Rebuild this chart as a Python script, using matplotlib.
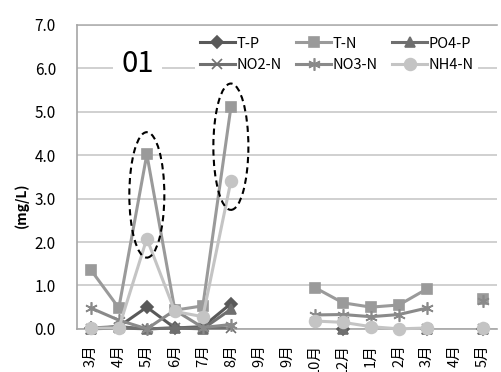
import matplotlib
matplotlib.use('Agg')
import matplotlib.pyplot as plt
from matplotlib.patches import Ellipse
import numpy as np

plt.rcParams['font.family'] = ['Noto Sans CJK JP', 'DejaVu Sans']

nan = np.nan
months = ['3月', '4月', '5月', '6月', '7月', '8月', '9月', '9月', '10月', '12月',
          '1月', '2月', '3月', '4月', '5月']

tp = [0.02, 0.05, 0.50, 0.02, 0.05, 0.58, nan, nan, nan, 0.0, nan, nan, 0.0, nan, 0.0]
tn = [1.36, 0.48, 4.02, 0.43, 0.53, 5.10, nan, nan, 0.95, 0.60, 0.50, 0.55, 0.92, nan, 0.68]
po4p = [0.0, 0.05, 0.0, 0.02, 0.0, 0.45, nan, nan, nan, 0.0, nan, nan, 0.0, nan, 0.0]
no2n = [0.0, 0.02, 0.0, 0.02, 0.02, 0.02, nan, nan, nan, 0.0, nan, nan, 0.0, nan, 0.0]
no3n = [0.48, 0.20, 0.0, 0.43, 0.03, 0.10, nan, nan, 0.32, 0.33, 0.28, 0.33, 0.48, nan, 0.65]
nh4n = [0.02, 0.02, 2.08, 0.40, 0.28, 3.40, nan, nan, 0.18, 0.15, 0.05, 0.0, 0.02, nan, 0.02]

# peaks circled with dashed ellipses: (category index, low, high)
circled = [(2, 1.64, 4.53), (5, 2.74, 5.65)]

fig = plt.figure(figsize=(5.02, 3.72), dpi=100)
ax = fig.add_axes([0.153, 0.116, 0.837, 0.817])

x = np.arange(len(months))
series = [
    ('T-P', tp, '#595959', 'D', 6.5),
    ('T-N', tn, '#9a9a9a', 's', 7.5),
    ('PO4-P', po4p, '#6f6f6f', '^', 7.5),
    ('NO2-N', no2n, '#707070', 'x', 7.5),
    ('NO3-N', no3n, '#8a8a8a', (6, 2, 0), 9),
    ('NH4-N', nh4n, '#c4c4c4', 'o', 8.5),
]
handles = {}
for name, vals, col, mk, ms in series:
    ln, = ax.plot(x, vals, color=col, lw=2.2, marker=mk, ms=ms, mew=1.2,
                  mec=col, mfc=col, label=name, clip_on=False, zorder=3)
    handles[name] = ln

for idx, lo, hi in circled:
    ax.add_patch(Ellipse((idx, (lo + hi) / 2), 1.25, hi - lo, fill=False,
                         ec='black', ls=(0, (3, 2)), lw=1.5, zorder=4))

ax.set_xlim(-0.5, len(months) - 0.5)
ax.set_ylim(0, 7)
ax.set_yticks(np.arange(0, 7.1, 1))
ax.set_yticklabels([f'{v:.1f}' for v in np.arange(0, 7.1, 1)], fontsize=11)
ax.set_xticks(x)
ax.set_xticklabels(months, rotation=90, fontsize=10.5)
ax.tick_params(axis='y', length=0, pad=15)
ax.tick_params(axis='x', length=0, pad=11)
ax.yaxis.grid(True, color='#c8c8c8', lw=1.2)
ax.set_axisbelow(True)
for s in ['top', 'right']:
    ax.spines[s].set_visible(False)
for s in ['left', 'bottom']:
    ax.spines[s].set_color('#a6a6a6')
    ax.spines[s].set_linewidth(1.2)
ax.axhline(7, color='#b0b0b0', lw=1.2, clip_on=False)

ax.set_ylabel('(mg/L)', fontsize=10, fontweight='bold')
ax.yaxis.set_label_coords(-0.115, 0.408)

ax.text(0.145, 0.87, '01', transform=ax.transAxes, fontsize=21,
        ha='center', va='center',
        bbox=dict(facecolor='white', edgecolor='none', pad=6), zorder=5)

# legend fills column by column, so order gives rows T-P/T-N/PO4-P and NO2-N/NO3-N/NH4-N
order = ['T-P', 'NO2-N', 'T-N', 'NO3-N', 'PO4-P', 'NH4-N']
leg = ax.legend([handles[n] for n in order], order,
                loc='upper left', bbox_to_anchor=(0.265, 1.0), ncol=3,
                frameon=True, fontsize=10.5, handlelength=2.4, handletextpad=0.1,
                columnspacing=1.0, labelspacing=0.5, borderpad=0.3)
leg.get_frame().set_edgecolor('none')
leg.get_frame().set_facecolor('white')
leg.get_frame().set_alpha(1)
leg.set_zorder(6)

fig.savefig('out.png', dpi=100)
